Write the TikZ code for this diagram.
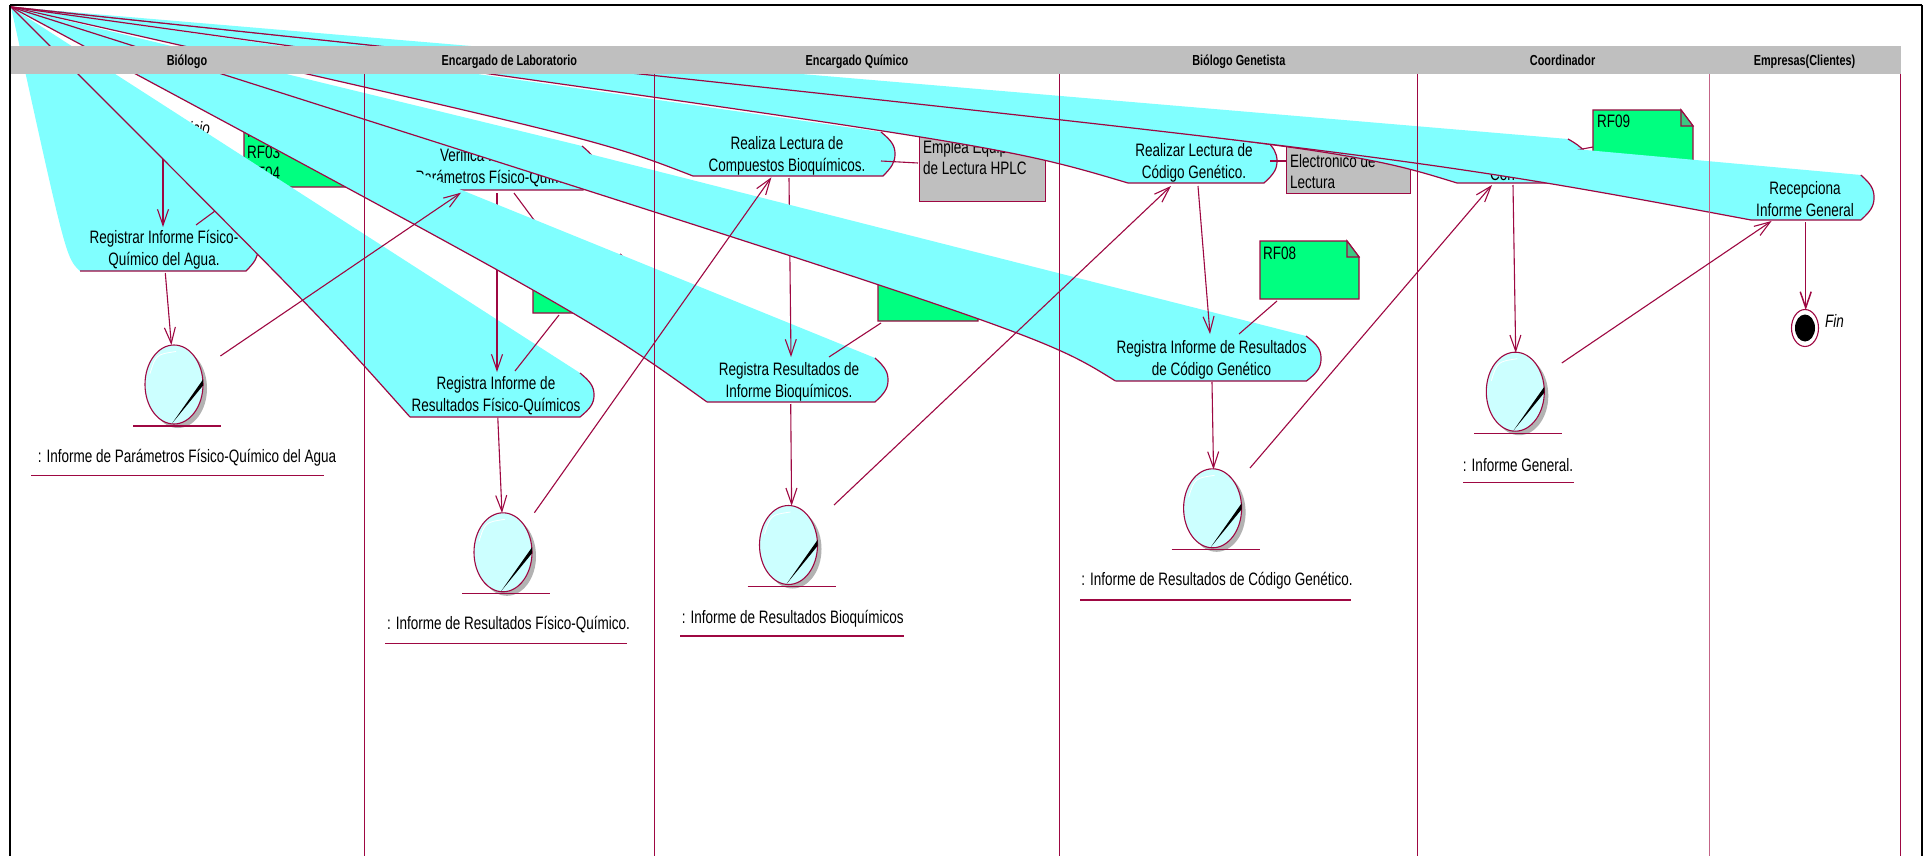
\documentclass[tikz,border=0pt]{standalone}
\usepackage{fontspec}
\usetikzlibrary{arrows.meta,calc,shapes.geometric,shadows}
\newfontfamily\diafont[FakeStretch=0.75]{Liberation Sans}
\definecolor{hmaroon}{RGB}{158,8,66}
\definecolor{hlane}{RGB}{196,100,135}
\definecolor{hcyan}{RGB}{128,255,255}
\definecolor{hgreen}{RGB}{0,255,128}
\definecolor{hfold}{RGB}{60,200,130}
\definecolor{hgrey}{RGB}{191,191,191}
\definecolor{hbubble}{RGB}{204,255,255}
\tikzset{
  every node/.style={inner sep=0pt},
  actline/.style={draw=hmaroon,line width=1.2pt},
  flow/.style={hmaroon,line width=1.1pt,-{Straight Barb[length=16pt,width=11pt]}},
  notelink/.style={hmaroon,line width=1.1pt},
  lane/.style={hmaroon,line width=0.9pt},
  underl/.style={hmaroon,line width=1.2pt},
  acttext/.style={font=\diafont\fontsize{18}{22}\selectfont,align=center,yshift=-2pt},
  notetext/.style={font=\diafont\fontsize{18}{21}\selectfont,align=left,anchor=north west},
  headtext/.style={font=\diafont\bfseries\fontsize{14.5}{17}\selectfont,text height=11pt,text depth=0pt},
  bubble/.style={draw=hmaroon,line width=1.1pt,fill=hbubble,ellipse,minimum width=58pt,minimum height=79pt,
    drop shadow={shadow xshift=4pt,shadow yshift=-4pt,fill=black!30,opacity=1}}
}
\newcommand{\activity}[8]{
  \coordinate (#1bl) at (#2,#8);
  \coordinate (#1k) at (#3);
  \fill[hcyan] (apex) -- (#6,#7) .. controls (#5-3,#7+9) and (#5,#7+14) .. (#5,{(#7+#8)/2})
    .. controls (#5,#8-14) and (#5-3,#8-9) .. (#4,#8) -- (#1bl) .. controls (#1k) .. (apex) -- cycle;
  \draw[actline] (#6,#7) .. controls (#5-3,#7+9) and (#5,#7+14) .. (#5,{(#7+#8)/2})
    .. controls (#5,#8-14) and (#5-3,#8-9) .. (#4,#8) -- (#1bl);
}
\newcommand{\actedge}[1]{\draw[actline] (#1bl) .. controls (#1k) .. (apex);}
\newcommand{\reqnote}[5]{
  \filldraw[draw=hmaroon,line width=1.4pt,fill=hgreen] (#2,#3) -- (#2+#4-12,#3) -- (#2+#4,#3+16) -- (#2+#4,#3+#5) -- (#2,#3+#5) -- cycle;
  \filldraw[draw=hmaroon,line width=1.1pt,fill=hfold] (#2+#4-12,#3) -- (#2+#4-12,#3+16) -- (#2+#4,#3+16) -- cycle;
  \coordinate (#1) at (#2,#3);
}
\newcommand{\docbubble}[3]{
  \node (#1) [bubble] at (#2,#3) {};
  \fill[black] ($(#1)+(29,-5)$) -- ($(#1)+(29,1)$) -- ($(#1)+(-2,39)$) -- cycle;
  \draw[white,line width=0.8pt] ($(#1)+(2,-33)$) .. controls ($(#1)+(-18,-30)$) .. ($(#1)+(-24,-11)$);
  \coordinate (#1l) at ($(#1)+(-41,41.5)$);
  \coordinate (#1r) at ($(#1)+(47,41.5)$);
  \draw[underl] (#1l) -- (#1r);
}
\begin{document}
\begin{tikzpicture}[x=1pt,y=-1pt]
  \useasboundingbox (0,0) rectangle (1925,856);
  \fill[white] (0,0) rectangle (1925,856);
  \coordinate (apex) at (11,7);

  \activity{regagua}{80}{66,258}{246}{258}{246}{227}{271}
  \node (regaguat) [acttext] at (164,248) {Registrar Informe Físico-\\Químico del Agua.};
  \node (inicio) [acttext,font=\diafont\itshape\fontsize{18}{22}\selectfont,anchor=east] at (210,126) {Inicio};
  \coordinate (inicioout) at (163,130);
  \coordinate (regaguain) at (163,227);
  \draw[flow] (inicioout) -- (regaguain);
  \reqnote{rfa}{244}{118}{106}{69}
  \node (rfat) [notetext] at (247,124.5) {RF02\\RF03\\RF04};
  \coordinate (rfaa) at (215,211);
  \coordinate (rfab) at (196,225);
  \draw[notelink] (rfaa) -- (rfab);

  \activity{regres}{410}{320,316}{580}{594}{580}{373}{417}
  \actedge{regres}
  \node (regrest) [acttext] at (496,394) {Registra Informe de\\Resultados Físico-Químicos};

  \activity{verif}{420}{300,130}{583}{596}{582}{146}{190}
  \node (veriflabel) [acttext] at (501,166) {Verifica Informe de\hspace*{9pt}\\Parámetros Físico-Químicos};
  \reqnote{rfb}{533}{255}{100}{58}
  \coordinate (verifa) at (514,193);
  \coordinate (verifb) at (560,255);
  \coordinate (rfbo) at (559,315);
  \coordinate (rfbr) at (515,371);
  \draw[notelink] (verifa) -- (verifb);
  \draw[notelink] (rfbo) -- (rfbr);
  \coordinate (verifo) at (497,193);
  \coordinate (verifd) at (497,372);
  \draw[flow] (verifo) -- (verifd);

  \activity{regbio}{707}{590,318}{875}{888}{875}{358}{402}
  \actedge{regbio}
  \node (regbiot) [acttext] at (789,379.5) {Registra Resultados de\\Informe Bioquímicos.};

  \node (emplea) [draw=hmaroon,line width=1.4pt,fill=hgrey,minimum width=126pt,minimum height=71pt,anchor=north west] at (919,130) {};
  \node (empleat) [notetext] at (923,140.5) {Emplea Equipo\\de Lectura HPLC};

  \activity{realiza}{693}{600,140}{883}{895}{881}{132}{176}
  \actedge{realiza}
  \node (realizat) [acttext] at (787,153.5) {Realiza Lectura de\\Compuestos Bioquímicos.};
  \coordinate (realizan) at (881,161);
  \coordinate (emplean) at (918,163);
  \draw[notelink] (realizan) -- (emplean);
  \coordinate (realizao) at (789,178);
  \coordinate (regbioi) at (791,357);
  \draw[flow] (realizao) -- (regbioi);
  \reqnote{rfc}{878}{262}{100}{59}
  \coordinate (rfco) at (881,323);
  \coordinate (rfcr) at (829,357);
  \draw[notelink] (rfco) -- (rfcr);

  \activity{codigo}{1115.5}{1040,334}{1306.5}{1321}{1306}{336}{381}
  \actedge{codigo}
  \node (codigot) [acttext] at (1211.6,357.5) {Registra Informe de Resultados\\de Código Genético};
  \reqnote{rfd}{1260}{241}{99}{58}
  \node (rfdt) [notetext] at (1263,246.5) {RF08};
  \coordinate (rfdo) at (1277,301);
  \coordinate (rfdr) at (1239,334);
  \draw[notelink] (rfdo) -- (rfdr);

  \node (electro) [draw=hmaroon,line width=1.4pt,fill=hgrey,minimum width=124pt,minimum height=67pt,anchor=north west] at (1286,126) {};
  \node (electrot) [notetext] at (1290,154.5) {Electronico de\\Lectura};

  \activity{realizar}{1128}{1000,145}{1264}{1277}{1265}{139}{183}
  \actedge{realizar}
  \node (realizart) [acttext] at (1194,161) {Realizar Lectura de\\Código Genético.};
  \coordinate (realizarn) at (1270,161);
  \coordinate (electron) at (1286,161);
  \draw[notelink] (realizarn) -- (electron);

  \reqnote{rfe}{1593}{110}{100}{58}
  \node (rfet) [notetext] at (1597,114.5) {RF09};

  \activity{consol}{1457}{1340,147}{1574}{1587}{1568}{139}{183}
  \actedge{consol}
  \node (consolt) [acttext,anchor=west] at (1490,172) {Con};
  \coordinate (consoln) at (1577,150);
  \coordinate (rfen) at (1593,147);
  \draw[notelink] (consoln) -- (rfen);

  \activity{recep}{1751}{1404,155}{1860.8}{1874}{1860.8}{175}{220}
  \actedge{recep}
  \node (recept) [acttext] at (1805,197) {Recepciona\\Informe General};

  \fill[hgrey] (10,46) rectangle (1901,74);
  \node (hbio) [headtext] at (187,60) {Biólogo};
  \node (hlab) [headtext] at (509.4,60) {Encargado de Laboratorio};
  \node (hqui) [headtext] at (857,60) {Encargado Químico};
  \node (hgen) [headtext] at (1238.8,60) {Biólogo Genetista};
  \node (hcoo) [headtext] at (1562.6,60) {Coordinador};
  \node (hemp) [headtext] at (1804.5,60) {Empresas(Clientes)};

  \foreach \lx in {364,654.5,1059.6,1417.4,1900.3}
    \draw[lane] (\lx,74) -- (\lx,856);
  \draw[lane,hlane] (1709,74) -- (1709,856);

  \docbubble{bubagua}{174}{384.5}
  \docbubble{bubres}{503}{552.3}
  \docbubble{bubbio}{788.5}{545}
  \docbubble{bubcod}{1212.6}{508.3}
  \docbubble{bubgen}{1515.3}{391.7}

  \node (labagua) [acttext] at (187,455.7) {: Informe de Parámetros Físico-Químico del Agua};
  \node (labres) [acttext] at (508.5,623) {: Informe de Resultados Físico-Químico.};
  \node (labbio) [acttext] at (792.7,616.7) {: Informe de Resultados Bioquímicos};
  \node (labcod) [acttext] at (1217,579) {: Informe de Resultados de Código Genético.};
  \node (labgen) [acttext] at (1518,463) {: Informe General.};
  \draw[underl] (31,475.7) -- (324,475.7);
  \draw[underl] (385,643.7) -- (627,643.7);
  \draw[underl] (680,636) -- (903.7,636);
  \draw[underl] (1080.4,600) -- (1351,600);
  \draw[underl] (1463,482.5) -- (1574,482.5);

  \coordinate (a1) at (165.3,273);
  \coordinate (a2) at (171.4,345);
  \draw[flow] (a1) -- (a2);
  \coordinate (b1) at (220.4,356);
  \coordinate (b2) at (461,192.7);
  \draw[flow] (b1) -- (b2);
  \coordinate (c1) at (497.8,417.7);
  \coordinate (c2) at (502,513);
  \draw[flow] (c1) -- (c2);
  \coordinate (d1) at (534.4,512.7);
  \coordinate (d2) at (771.4,177.3);
  \draw[flow] (d1) -- (d2);
  \coordinate (e1) at (790.7,404);
  \coordinate (e2) at (791.6,505.7);
  \draw[flow] (e1) -- (e2);
  \coordinate (f1) at (834,505);
  \coordinate (f2) at (1171,186);
  \draw[flow] (f1) -- (f2);
  \coordinate (g1) at (1198,186);
  \coordinate (g2) at (1210,334);
  \draw[flow] (g1) -- (g2);
  \coordinate (h1) at (1212,382);
  \coordinate (h2) at (1213.5,469.3);
  \draw[flow] (h1) -- (h2);
  \coordinate (i1) at (1250,468);
  \coordinate (i2) at (1492,185);
  \draw[flow] (i1) -- (i2);
  \coordinate (j1) at (1513,185);
  \coordinate (j2) at (1515.7,352.7);
  \draw[flow] (j1) -- (j2);
  \coordinate (k1) at (1561.8,363);
  \coordinate (k2) at (1771.6,221);
  \draw[flow] (k1) -- (k2);

  \node (fin) [draw=hmaroon,line width=1.1pt,fill=white,ellipse,minimum width=27pt,minimum height=37pt] at (1805,328) {};
  \node (fincore) [fill=black,ellipse,minimum width=20pt,minimum height=27pt] at (fin) {};
  \node (fint) [acttext,font=\diafont\itshape\fontsize{18}{22}\selectfont,anchor=west] at (1825,318.7) {Fin};
  \coordinate (recepo) at (1805.7,222);
  \coordinate (fini) at (1805.7,310);
  \draw[flow,line width=1.5pt] (recepo) -- (fini);

  \draw[black,line width=2.6pt] (9.8,856) -- (9.8,5);
  \draw[black,line width=1.8pt] (9.8,5) -- (1922,5);
  \draw[black,line width=1.3pt] (1922,5) -- (1922,856);
\end{tikzpicture}
\end{document}
